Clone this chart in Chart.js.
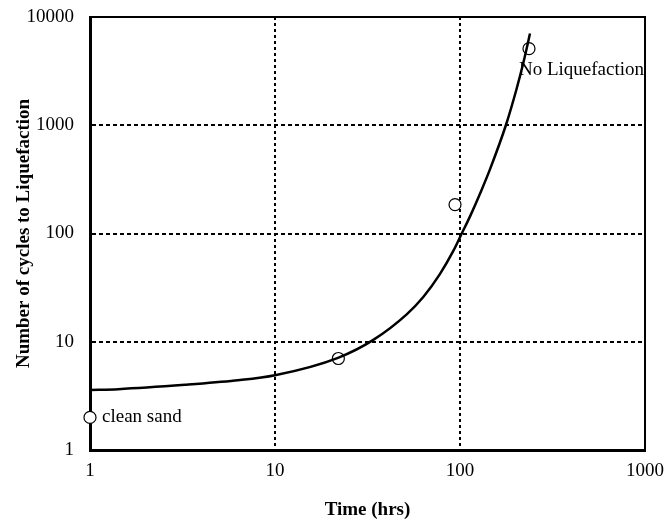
<!DOCTYPE html>
<html>
<head>
<meta charset="utf-8">
<script src="https://cdn.jsdelivr.net/npm/chart.js@4.4.0/dist/chart.umd.min.js"></script>
<style>
  html, body { margin: 0; padding: 0; background: #fff; }
  #wrap { width: 665px; height: 523px; }
</style>
</head>
<body>
<div id="wrap"><canvas id="chart"></canvas></div>
<script>
// axis ticks (decades only)
const xTicks = [1, 10, 100, 1000];
const yTicks = [1, 10, 100, 1000, 10000];

// fitted curve
const curveTime = [1, 1.42, 3.26, 6.08, 10, 21.9, 34, 51.5, 63.3, 78, 92, 102.5, 113.3, 131, 145, 177, 202, 220, 239];
const curveCycles = [3.59, 3.65, 4.0, 4.38, 4.9, 7.1, 10.4, 17.9, 25.9, 42.4, 69, 101, 144, 254, 389, 1000, 2150, 3780, 7030];

// test results (open circles)
const testTime = [1, 22, 94, 236];
const testCycles = [2, 7, 185, 5100];

// notes next to two of the circles
const noteText = ['clean sand', 'No Liquefaction'];
const noteTime = [1, 236];
const noteCycles = [2, 5100];

const serif = "'Liberation Serif', 'Times New Roman', serif";
Chart.defaults.font.family = serif;
Chart.defaults.color = '#000';

// top/right edges of the frame + the two text notes
const framePlugin = {
    id: 'framePlugin',
    beforeDatasetsDraw(chart) {
        const { ctx, chartArea: a } = chart;
        ctx.save();
        ctx.strokeStyle = '#000';
        ctx.lineWidth = 2;
        ctx.beginPath();
        ctx.moveTo(a.left, a.top);
        ctx.lineTo(a.right, a.top);
        ctx.lineTo(a.right, a.bottom);
        ctx.stroke();
        ctx.restore();
    },
    afterDatasetsDraw(chart) {
        const { ctx, scales: { x, y } } = chart;
        const offs = [[12, 0], [-10, 21]];
        ctx.save();
        ctx.fillStyle = '#000';
        ctx.font = '19px ' + serif;
        ctx.textAlign = 'left';
        ctx.textBaseline = 'middle';
        noteText.forEach((t, i) => {
            const px = x.getPixelForValue(noteTime[i]) + offs[i][0];
            const py = y.getPixelForValue(noteCycles[i]) + offs[i][1];
            ctx.fillText(t, px, py);
        });
        ctx.restore();
    }
};

const gridColor = (edges) => (c) => (c.tick && edges.includes(c.tick.value)) ? 'rgba(0,0,0,0)' : '#000';

new Chart(document.getElementById('chart'), {
    type: 'line',
    data: {
        datasets: [
            {
                label: 'fit',
                data: curveTime.map((t, i) => ({ x: t, y: curveCycles[i] })),
                borderColor: '#000',
                borderWidth: 2.5,
                pointRadius: 0,
                cubicInterpolationMode: 'monotone',
                fill: false,
                order: 0
            },
            {
                label: 'tests',
                data: testTime.map((t, i) => ({ x: t, y: testCycles[i] })),
                showLine: false,
                pointRadius: 6,
                pointBorderWidth: 1.2,
                pointBorderColor: '#000',
                pointBackgroundColor: '#fff',
                clip: false,
                order: 1
            }
        ]
    },
    plugins: [framePlugin],
    options: {
        responsive: true,
        maintainAspectRatio: false,
        animation: false,
        layout: { padding: { top: 17, right: 20, left: 0, bottom: 0 } },
        plugins: {
            legend: { display: false },
            tooltip: { enabled: false }
        },
        scales: {
            x: {
                type: 'logarithmic',
                min: 1,
                max: 1000,
                afterBuildTicks: s => { s.ticks = xTicks.map(v => ({ value: v })); },
                afterFit: s => {
                    s.height = 73;
                    s.paddingLeft = 0;
                    s.paddingRight = 0;
                },
                ticks: {
                    font: { size: 19 },
                    padding: 10,
                    maxRotation: 0,
                    callback: v => String(v)
                },
                grid: { color: gridColor([1, 1000]), lineWidth: 2, drawTicks: false },
                border: { display: true, color: '#000', width: 3, dash: [3, 3] },
                title: {
                    display: true,
                    text: 'Time (hrs)',
                    font: { size: 19, weight: 'bold' },
                    padding: { top: 0, bottom: 2 }
                }
            },
            y: {
                type: 'logarithmic',
                min: 1,
                max: 10000,
                afterBuildTicks: s => { s.ticks = yTicks.map(v => ({ value: v })); },
                afterFit: s => {
                    s.width = 90;
                    s.paddingTop = 0;
                    s.paddingBottom = 0;
                },
                ticks: {
                    font: { size: 19 },
                    padding: 16,
                    callback: v => String(v)
                },
                grid: { color: gridColor([1, 10000]), lineWidth: 2, drawTicks: false },
                border: { display: true, color: '#000', width: 3, dash: [4, 3] },
                title: {
                    display: true,
                    text: 'Number of cycles to Liquefaction',
                    font: { size: 19, weight: 'bold' },
                    padding: { top: 13, bottom: 0 }
                }
            }
        }
    }
});
</script>
</body>
</html>
